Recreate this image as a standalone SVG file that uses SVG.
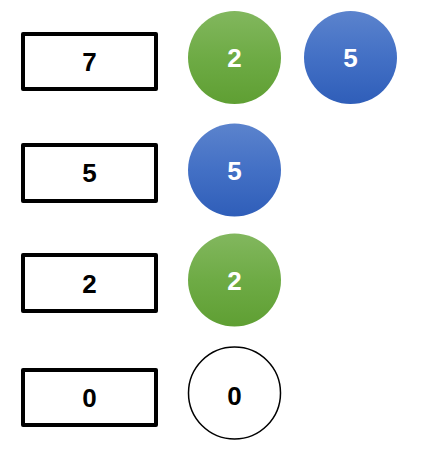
<svg xmlns="http://www.w3.org/2000/svg" width="426" height="455" viewBox="0 0 426 455">
<defs>
<linearGradient id="gGreen" x1="0" y1="0" x2="0" y2="1">
<stop offset="0" stop-color="#82b75e"/>
<stop offset="0.5" stop-color="#6eab45"/>
<stop offset="1" stop-color="#5f9f33"/>
</linearGradient>
<linearGradient id="gBlue" x1="0" y1="0" x2="0" y2="1">
<stop offset="0" stop-color="#5b83cd"/>
<stop offset="0.5" stop-color="#4370c5"/>
<stop offset="1" stop-color="#2f5eb9"/>
</linearGradient>
<style>
.box{fill:#fff;stroke:#000;stroke-width:4;stroke-linejoin:round}
.t{font-family:"Liberation Sans",Arial,sans-serif;font-weight:bold;font-size:26px;text-anchor:middle;dominant-baseline:central}
.dk{fill:#000}
.wt{fill:#fff}
.green{fill:url(#gGreen)}
.blue{fill:url(#gBlue)}
.empty{fill:#fff;stroke:#000;stroke-width:1.5}
</style>
</defs>
<g id="box7"><rect class="box" x="23" y="34" width="133" height="55"/><text class="t dk" x="89.5" y="62">7</text></g>
<g id="c2a"><circle class="green" cx="234.5" cy="57.5" r="46.5"/><text class="t wt" x="234.5" y="58">2</text></g>
<g id="c5a"><circle class="blue" cx="350.5" cy="57.5" r="46.5"/><text class="t wt" x="350.5" y="58">5</text></g>
<g id="box5"><rect class="box" x="23" y="145" width="133" height="56"/><text class="t dk" x="89.5" y="173">5</text></g>
<g id="c5b"><circle class="blue" cx="234.5" cy="170" r="46.5"/><text class="t wt" x="234.5" y="170.5">5</text></g>
<g id="box2"><rect class="box" x="23" y="255" width="133" height="56"/><text class="t dk" x="89.5" y="284">2</text></g>
<g id="c2b"><circle class="green" cx="234.5" cy="280" r="46.5"/><text class="t wt" x="234.5" y="280.5">2</text></g>
<g id="box0"><rect class="box" x="23" y="370" width="133" height="55"/><text class="t dk" x="89.5" y="398">0</text></g>
<g id="c0"><circle class="empty" cx="234.5" cy="393" r="46"/><text class="t dk" x="234.5" y="396">0</text></g>
<g id="connectors"/>
</svg>
